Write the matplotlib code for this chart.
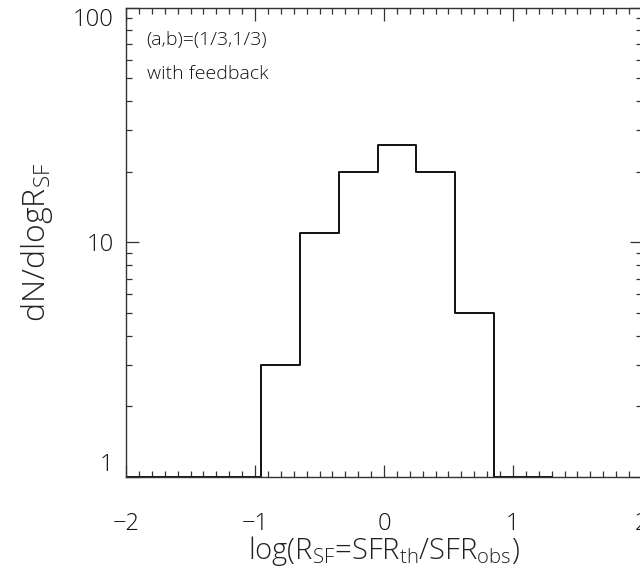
import numpy as np
import matplotlib
matplotlib.use("Agg")
import matplotlib.pyplot as plt
from matplotlib.ticker import MultipleLocator, LogLocator, FixedFormatter, NullFormatter

### histogram of log R_SF (bin centres, counts; empty bins sit on the axis floor)
bin_centres = [-2.0, -1.7, -1.4, -1.1, -0.8, -0.5, -0.2, 0.1, 0.4, 0.7, 1.0, 1.3]
counts = [1, 1, 1, 1, 3, 11, 20, 26, 20, 5, 1, 1]

x_ticks = [-2, -1, 0, 1, 2]
x_labels = ["\u22122", "\u22121", "0", "1", "2"]
y_ticks = [1, 10, 100]
y_labels = ["1", "10", "100"]

label_a = "(a,b)=(1/3,1/3)"
label_b = "with feedback"

fnt = 'Open Sans'
plt.rcParams['font.family'] = [fnt, 'DejaVu Sans']
plt.rcParams['font.weight'] = 'light'
plt.rcParams['axes.labelweight'] = 'light'
plt.rcParams['mathtext.fontset'] = 'custom'
plt.rcParams['mathtext.rm'] = fnt + ':light'
plt.rcParams['mathtext.default'] = 'rm'

fig = plt.figure(figsize=(6.4, 5.71), dpi=100)
ax = fig.add_axes([0.197, 0.1646, 0.806, 0.822])

ax.step(bin_centres, counts, where='mid', color='#111111', lw=1.4)

ax.set_yscale('log')
ax.set_xlim(-2, 2)
ax.set_ylim(1, 100)

ax.xaxis.set_major_locator(plt.FixedLocator(x_ticks))
ax.xaxis.set_major_formatter(FixedFormatter(x_labels))
ax.xaxis.set_minor_locator(MultipleLocator(0.1))
ax.yaxis.set_major_locator(plt.FixedLocator(y_ticks))
ax.yaxis.set_major_formatter(FixedFormatter(y_labels))
ax.yaxis.set_minor_locator(LogLocator(base=10, subs=np.arange(2, 10)))
ax.yaxis.set_minor_formatter(NullFormatter())

ax.tick_params(which='both', direction='in', top=True, right=True,
               colors='#333333', labelcolor='#111111', labelsize=17, width=0.9)
ax.tick_params(which='major', length=9)
ax.tick_params(which='minor', length=4.5)
ax.tick_params(axis='x', which='major', pad=25)
ax.tick_params(axis='y', which='major', pad=9)
for s in ax.spines.values():
    s.set_linewidth(1.0)
    s.set_color('#333333')

# IDL keeps the end labels inside the axis range
yt = ax.yaxis.get_major_ticks()
yt[0].label1.set_va('bottom')
yt[-1].label1.set_va('top')

ax.set_xlabel(r'log(R$_{SF}$=SFR$_{th}$/SFR$_{obs}$)', fontsize=21, color='#222222', labelpad=-1)
ax.set_ylabel(r'dN/dlogR$_{SF}$', fontsize=23, color='#222222', labelpad=13)

ax.text(0.04, 0.931, label_a, transform=ax.transAxes, fontsize=14, va='center', color='#111111')
ax.text(0.04, 0.858, label_b, transform=ax.transAxes, fontsize=14, va='center', color='#111111')

fig.savefig("out.png", dpi=100)
